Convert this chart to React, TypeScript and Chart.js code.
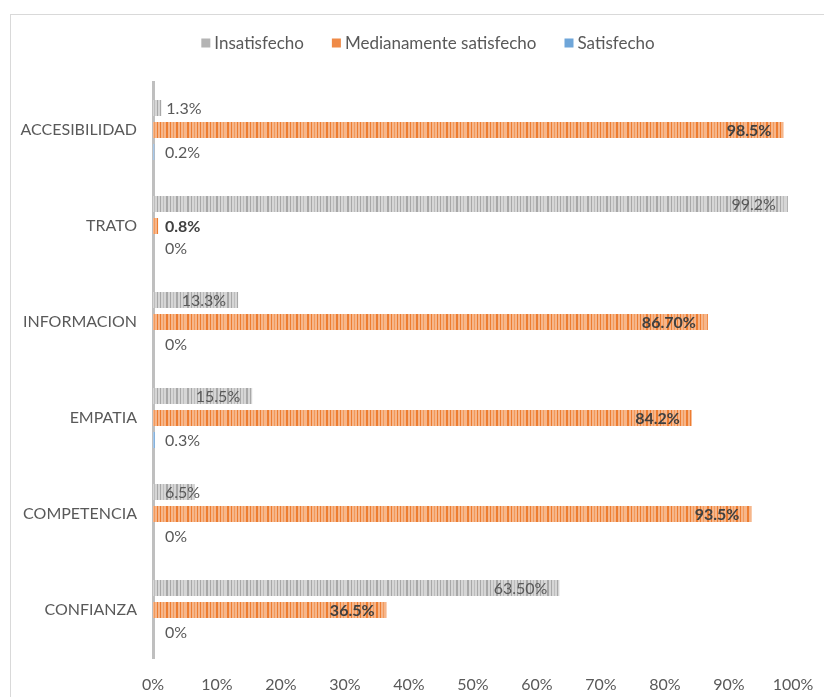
import { useEffect, useRef } from "react";
import { Chart, registerables } from "chart.js";

Chart.register(...registerables);

const categories = ["ACCESIBILIDAD", "TRATO", "INFORMACION", "EMPATIA", "COMPETENCIA", "CONFIANZA"];
const seriesNames = ["Insatisfecho", "Medianamente satisfecho", "Satisfecho"];
const insatisfecho = [1.3, 99.2, 13.3, 15.5, 6.5, 63.5];
const medianamente = [98.5, 0.8, 86.7, 84.2, 93.5, 36.5];
const satisfecho = [0.2, 0, 0, 0.3, 0, 0];
const insatisfechoLabels = ["1.3%", "99.2%", "13.3%", "15.5%", "6.5%", "63.50%"];
const medianamenteLabels = ["98.5%", "0.8%", "86.70%", "84.2%", "93.5%", "36.5%"];
const satisfechoLabels = ["0.2%", "0%", "0%", "0.3%", "0%", "0%"];

const FONT = "Lato, 'Noto Sans', sans-serif";
const TEXT = "#595959";

function makePattern(base: string, stripe: string, mid: string) {
  const c = document.createElement("canvas");
  c.width = 40;
  c.height = 4;
  const g = c.getContext("2d")!;
  g.fillStyle = base;
  g.fillRect(0, 0, 40, 4);
  const stripes = [[0, 1], [3, 1], [6, 2], [10, 1], [13, 1], [16, 2], [20, 1], [23, 1], [27, 2], [31, 1], [34, 1], [37, 1]];
  stripes.forEach(([x, w], i) => {
    g.fillStyle = i % 3 === 1 ? mid : stripe;
    g.fillRect(x, 0, w, 4);
  });
  return g.createPattern(c, "repeat")!;
}

export default function App() {
  const ref = useRef<HTMLCanvasElement>(null);

  useEffect(() => {
    const canvas = ref.current!;
    const grayP = makePattern("#d6d6d6", "#a8a8a8", "#bdbdbd");
    const orangeP = makePattern("#f6b68b", "#ed7d31", "#f29a5c");
    const blueP = makePattern("#a9c9ea", "#5b9bd5", "#80b1df");
    const fills = [grayP, orangeP, blueP];
    const legendFills = ["#b4b4b4", "#ef8a47", "#6fa6d9"];
    const labelSets = [insatisfechoLabels, medianamenteLabels, satisfechoLabels];

    const dataLabels = {
      id: "dataLabels",
      afterDatasetsDraw(chart: any) {
        const ctx = chart.ctx;
        const left = chart.chartArea.left;
        ctx.save();
        ctx.textBaseline = "middle";
        chart.data.datasets.forEach((ds: any, di: number) => {
          const meta = chart.getDatasetMeta(di);
          meta.data.forEach((el: any, i: number) => {
            const v = ds.data[i];
            const txt = labelSets[di][i];
            const bold = di === 1;
            ctx.font = `${bold ? "bold " : ""}16px ${FONT}`;
            ctx.fillStyle = bold ? "#404040" : TEXT;
            const w = ctx.measureText(txt).width;
            let x: number;
            if (di < 2 && v >= 5) {
              x = Math.max(el.x - 12 - w, left + 12);
            } else {
              x = Math.max(el.x + 5, left + 12);
            }
            ctx.textAlign = "left";
            ctx.fillText(txt, x, el.y + 1);
          });
        });
        ctx.restore();
      },
    };

    const customLegend = {
      id: "customLegend",
      afterDraw(chart: any) {
        const ctx = chart.ctx;
        ctx.save();
        ctx.font = `17px ${FONT}`;
        ctx.textBaseline = "middle";
        const box = 9;
        const gap = 4;
        const spacing = 28;
        const widths = seriesNames.map((n) => box + gap + ctx.measureText(n).width);
        const total = widths.reduce((a, b) => a + b, 0) + spacing * (seriesNames.length - 1);
        let x = 428 - total / 2;
        const y = 43;
        seriesNames.forEach((n, i) => {
          ctx.fillStyle = legendFills[i];
          ctx.fillRect(x, y - box / 2, box, box);
          ctx.fillStyle = TEXT;
          ctx.textAlign = "left";
          ctx.fillText(n, x + box + gap, y + 1);
          x += widths[i] + spacing;
        });
        ctx.restore();
      },
    };

    const chart = new Chart(canvas, {
      type: "bar",
      data: {
        labels: categories,
        datasets: [
          { label: seriesNames[0], data: insatisfecho, backgroundColor: grayP },
          { label: seriesNames[1], data: medianamente, backgroundColor: orangeP },
          { label: seriesNames[2], data: satisfecho, backgroundColor: blueP },
        ],
      },
      options: {
        indexAxis: "y",
        responsive: false,
        animation: false,
        devicePixelRatio: 1,
        layout: { padding: { top: 82, right: 31, bottom: 0, left: 0 } },
        datasets: {
          bar: { categoryPercentage: 0.6875, barPercentage: 0.727 },
        },
        plugins: {
          legend: { display: false },
          tooltip: { enabled: false },
        },
        scales: {
          x: {
            min: 0,
            max: 100,
            ticks: {
              stepSize: 10,
              color: TEXT,
              font: { family: FONT, size: 16 },
              padding: 17,
              callback: (v: any) => `${v}%`,
            },
            grid: { display: false, drawTicks: false },
            border: { display: false },
            afterFit: (s: any) => {
              s.height = 39;
              s.paddingLeft = 0;
              s.paddingRight = 0;
            },
          },
          y: {
            ticks: {
              color: TEXT,
              font: { family: FONT, size: 16 },
              padding: 16,
            },
            grid: { display: false, drawTicks: false },
            border: { display: true, color: "#bfbfbf", width: 3 },
            afterFit: (s: any) => {
              s.width = 153;
            },
          },
        },
      },
      plugins: [dataLabels, customLegend],
    });
    return () => chart.destroy();
  }, []);

  return (
    <div style={{ position: "fixed", left: 0, top: 0, width: 824, height: 697, overflow: "hidden", background: "#fff" }}>
      <div
        style={{
          position: "absolute",
          left: 10,
          top: 14,
          width: 840,
          height: 720,
          border: "1px solid #d9d9d9",
        }}
      />
      <canvas ref={ref} width={824} height={697} style={{ position: "absolute", left: 0, top: 0 }} />
    </div>
  );
}
